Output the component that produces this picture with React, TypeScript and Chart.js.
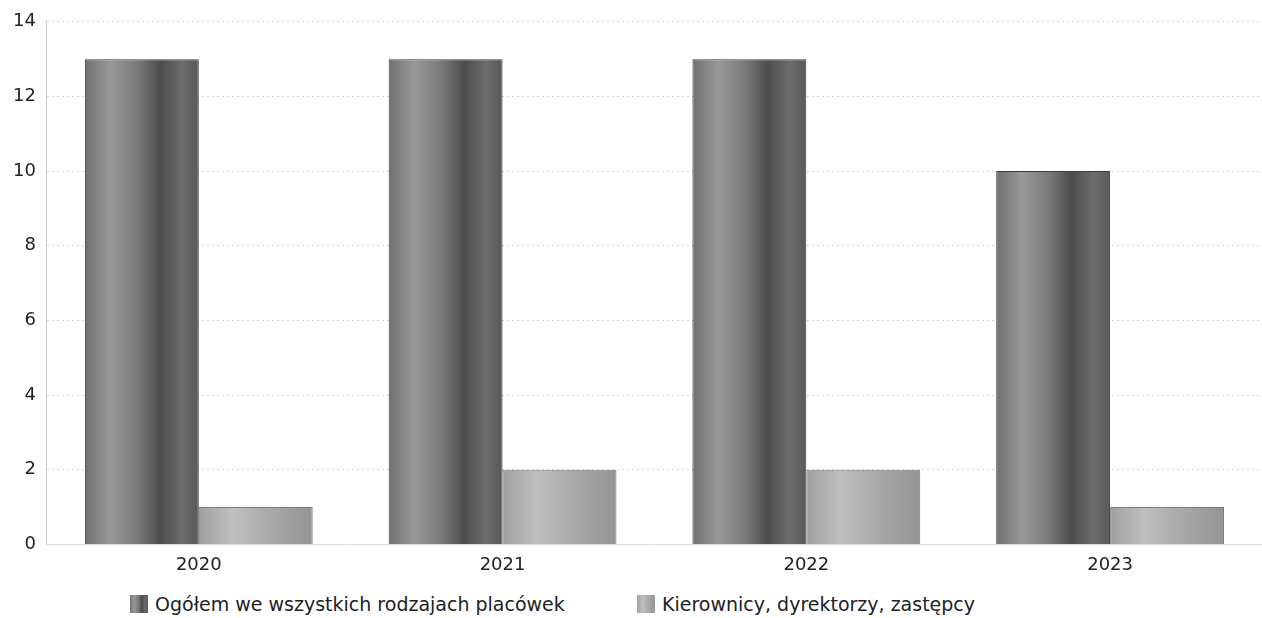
import React, { useEffect, useRef } from "react";
import { Chart, registerables } from "chart.js";

Chart.register(...registerables);

const categories = ["2020", "2021", "2022", "2023"];
const seriesTotal = [13, 13, 13, 10];
const seriesManagers = [1, 2, 2, 1];
const seriesNames = ["Ogółem we wszystkich rodzajach placówek", "Kierownicy, dyrektorzy, zastępcy"];
const yTicks = [0, 2, 4, 6, 8, 10, 12, 14];

const CAT_PCT = 0.75;
const FONT = "'DejaVu Sans', sans-serif";

const darkStops: [number, string][] = [
  [0, "#707070"],
  [0.22, "#989898"],
  [0.45, "#7c7c7c"],
  [0.66, "#4c4c4c"],
  [0.85, "#6c6c6c"],
  [1, "#585858"],
];
const lightStops: [number, string][] = [
  [0, "#a0a0a0"],
  [0.3, "#c0c0c0"],
  [0.6, "#aaaaaa"],
  [1, "#949494"],
];

function cssGradient(stops: [number, string][]) {
  return "linear-gradient(to right, " + stops.map(([p, c]) => `${c} ${p * 100}%`).join(", ") + ")";
}

function barGradient(stops: [number, string][], fallback: string) {
  return (ctx: any) => {
    const chart = ctx.chart;
    const xs = chart.scales?.x;
    if (!chart.chartArea || !xs || ctx.dataIndex === undefined) return fallback;
    const center = xs.getPixelForValue(ctx.dataIndex);
    const catW = (xs.right - xs.left) / categories.length;
    const bw = (catW * CAT_PCT) / 2;
    const left = ctx.datasetIndex === 0 ? center - bw : center;
    const g = chart.ctx.createLinearGradient(left, 0, left + bw, 0);
    stops.forEach(([p, c]) => g.addColorStop(p, c));
    return g;
  };
}

export default function App() {
  const ref = useRef<HTMLCanvasElement>(null);
  useEffect(() => {
    if (!ref.current) return;
    const chart = new Chart(ref.current, {
      type: "bar",
      data: {
        labels: categories,
        datasets: [
          {
            label: seriesNames[0],
            data: seriesTotal,
            backgroundColor: barGradient(darkStops, "#666"),
            borderColor: "#3a3a3a",
            borderWidth: 1,
            categoryPercentage: CAT_PCT,
            barPercentage: 1,
          },
          {
            label: seriesNames[1],
            data: seriesManagers,
            backgroundColor: barGradient(lightStops, "#aaa"),
            borderColor: "#7a7a7a",
            borderWidth: 1,
            categoryPercentage: CAT_PCT,
            barPercentage: 1,
          },
        ],
      },
      options: {
        animation: false,
        responsive: false,
        maintainAspectRatio: false,
        layout: { padding: { top: 16, right: 0, bottom: 8, left: 2 } },
        plugins: {
          legend: { display: false },
          tooltip: { enabled: false },
        },
        scales: {
          x: {
            grid: { display: false },
            border: { display: true, color: "#dcdcdc" },
            ticks: { color: "#222", font: { family: FONT, size: 18 }, padding: 2 },
          },
          y: {
            min: 0,
            max: 14,
            afterBuildTicks: (axis: any) => {
              axis.ticks = yTicks.map((v) => ({ value: v }));
            },
            grid: { color: "#d4d4d4", drawTicks: false },
            border: { display: true, color: "#cccccc", dash: [2, 3] },
            ticks: { color: "#222", font: { family: FONT, size: 18 }, padding: 11 },
          },
        },
      },
    } as any);
    return () => chart.destroy();
  }, []);

  const legendItem = (name: string, stops: [number, string][], left: number) => (
    <div
      style={{
        position: "absolute",
        left,
        top: 593,
        display: "flex",
        alignItems: "center",
        fontFamily: FONT,
        fontSize: 19,
        color: "#222",
        whiteSpace: "nowrap",
      }}
    >
      <span
        style={{
          display: "inline-block",
          width: 18,
          height: 18,
          background: cssGradient(stops),
          marginRight: 7,
        }}
      />
      {name}
    </div>
  );

  return (
    <div style={{ position: "absolute", left: 0, top: 0, width: 1262, height: 618, background: "#fff" }}>
      <canvas ref={ref} width={1262} height={586} style={{ display: "block" }} />
      {legendItem(seriesNames[0], darkStops, 130)}
      {legendItem(seriesNames[1], lightStops, 637)}
    </div>
  );
}
